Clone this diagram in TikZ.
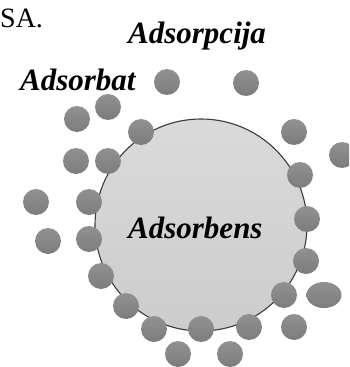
\documentclass[tikz,border=0pt]{standalone}
\usepackage{fontspec}
\usetikzlibrary{shapes.geometric}
\newfontfamily\timesfont{Liberation Serif}
\definecolor{dotTop}{HTML}{919191}
\definecolor{dotBot}{HTML}{7C7C7C}
\definecolor{bigTop}{HTML}{DADADA}
\definecolor{bigBot}{HTML}{CCCCCC}
\definecolor{rimCol}{HTML}{3A3A3A}
\begin{document}
\begin{tikzpicture}[x=1pt,y=-1pt,
  particle/.style={circle, minimum size=26pt, inner sep=0pt, draw=none,
    top color=dotTop, bottom color=dotBot},
  callig/.style={font=\timesfont\fontsize{31}{33}\selectfont\bfseries\itshape,
    inner sep=0pt, anchor=base west}]
\useasboundingbox (0,0) rectangle (349,367);
\clip (0,0) rectangle (349,367);

% the adsorbent sphere
\node[circle, minimum size=212pt, inner sep=0pt, draw=rimCol, line width=1.1pt,
  top color=bigTop, bottom color=bigBot] (sphere) at (201,225) {};

% free and adsorbed particles
\foreach \px/\py [count=\i] in {
  167/82, 246/83, 108/107, 77/119, 141/132, 294/132,
  76/161, 108/161, 342/155, 300/175,
  36/202, 89/202, 307/219, 48/241, 89/239,
  306/261, 101/276, 284/295, 126/306,
  154/329, 201/329, 249/327, 294/327, 178/354, 230/354}
  \node[particle] (p\i) at (\px,\py) {};
\node[particle, ellipse, minimum width=35pt, minimum height=26pt] (pe) at (324,295) {};

% labels
\node[callig] (tAdsorpcija) at (128,43) {Adsorpcija};
\node[callig] (tAdsorbat) at (20,90) {Adsorbat};
\node[callig] (tAdsorbens) at (128,238) {Adsorbens};
\node[inner sep=0pt, anchor=base west, font=\timesfont\fontsize{28}{30}\selectfont] (tSA) at (0,27) {SA.};
\end{tikzpicture}
\end{document}
